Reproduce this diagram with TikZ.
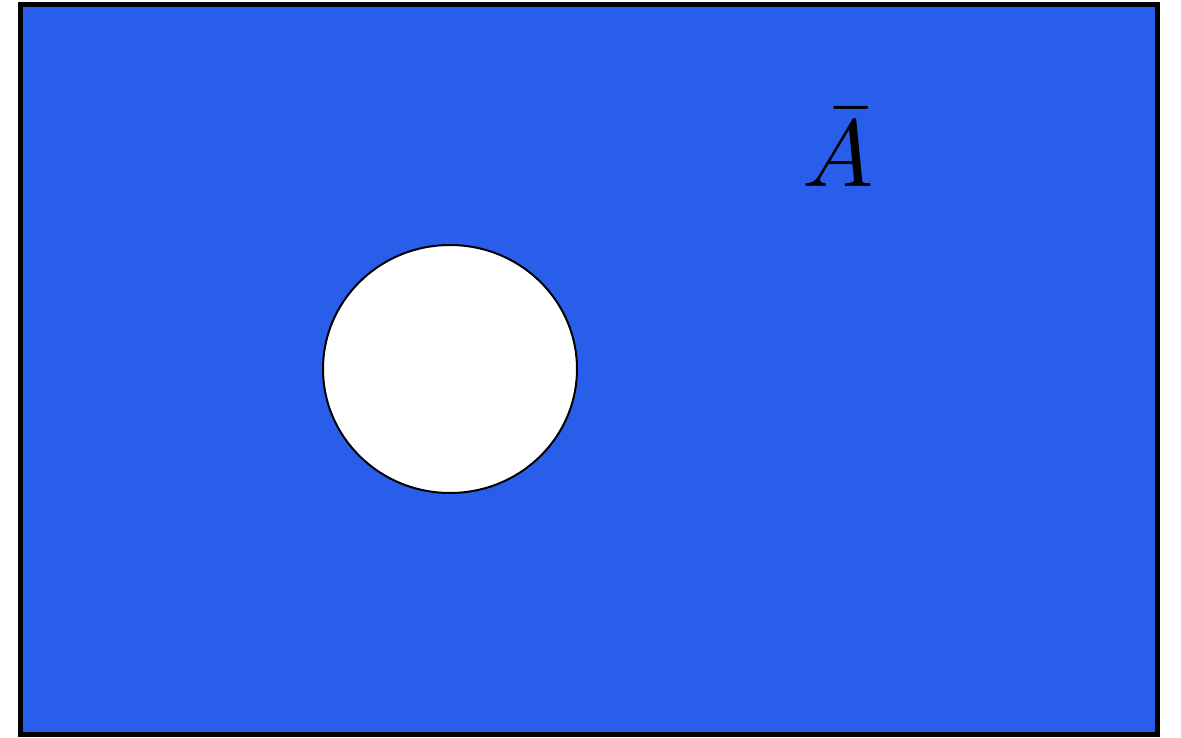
\documentclass[tikz,border=0pt]{standalone}
\usetikzlibrary{shapes.geometric}
\definecolor{fillblue}{RGB}{41,94,235}
\begin{document}
\begin{tikzpicture}[x=1pt,y=1pt,
  frame/.style={draw=black,line width=5pt,fill=fillblue,outer sep=0pt},
  hole/.style={draw=black,line width=2pt,fill=white},
  lbl/.style={inner sep=0pt,scale=9.5}]
\useasboundingbox (0,0) rectangle (1181,737);
\node[frame,minimum width=1137pt,minimum height=730pt,inner sep=0pt,anchor=south west] (U) at (20,2.5) {};
\node[hole,ellipse,minimum width=254pt,minimum height=248pt,inner sep=0pt] (A) at (450,368) {};
\node[lbl,anchor=base] (lab) at (838,550) {$\bar{A}$};
\end{tikzpicture}
\end{document}
